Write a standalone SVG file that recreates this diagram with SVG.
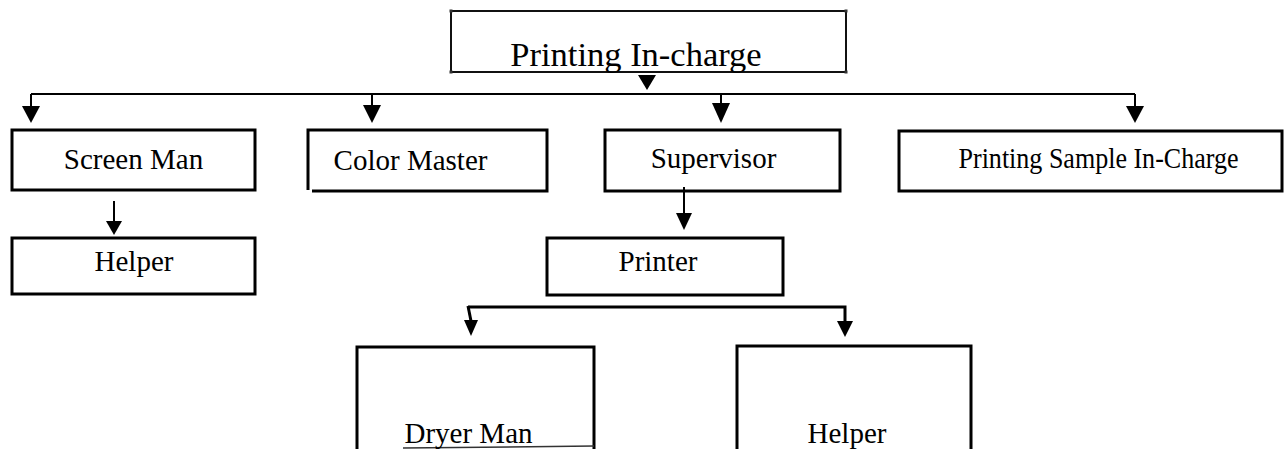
<svg xmlns="http://www.w3.org/2000/svg" xmlns:xlink="http://www.w3.org/1999/xlink" width="1286" height="449" viewBox="0 0 1286 449">
  <style>
    .box { fill: #fff; stroke: #000; stroke-width: 3; }
    .thin { fill: none; stroke: #111; stroke-width: 2; }
    .label { font-family: "Liberation Serif", "Times New Roman", serif; font-size: 29px; fill: #000; text-anchor: middle; }
    .wire { fill: none; stroke: #000; stroke-width: 2; }
    .wire3 { fill: none; stroke: #000; stroke-width: 3; }
    .head { fill: #000; stroke: none; }
    .dot { fill: #333; }
  </style>
  <rect width="1286" height="449" fill="#fff"/>

  <!-- top node -->
  <g id="printing-incharge">
    <rect class="thin" x="451" y="11" width="395" height="61"/>
    <rect class="dot" x="449.5" y="9.5" width="3" height="3"/>
    <rect class="dot" x="844.5" y="9.5" width="3" height="3"/>
    <rect class="dot" x="449.5" y="70.5" width="3" height="3"/>
    <rect class="dot" x="844.5" y="70.5" width="3" height="3"/>
    <text class="label" x="636" y="66" style="font-size:34.5px">Printing In-charge</text>
  </g>

  <!-- second level -->
  <g id="screen-man">
    <rect class="box" x="12" y="130" width="243" height="60"/>
    <text class="label" x="133.5" y="169">Screen Man</text>
  </g>
  <g id="color-master">
    <path class="box" d="M308,190 V130 H547 V191 H312" fill="none"/>
    <text class="label" x="410.5" y="170">Color Master</text>
  </g>
  <g id="supervisor">
    <rect class="box" x="605" y="130" width="235" height="61"/>
    <text class="label" x="713.5" y="168">Supervisor</text>
  </g>
  <g id="printing-sample-incharge">
    <rect class="box" x="899" y="131" width="383" height="60"/>
    <text class="label" x="1098.5" y="168" textLength="280" lengthAdjust="spacingAndGlyphs">Printing Sample In-Charge</text>
  </g>

  <!-- third level -->
  <g id="helper-screen">
    <rect class="box" x="12" y="238" width="243" height="56"/>
    <text class="label" x="134" y="271">Helper</text>
  </g>
  <g id="printer">
    <rect class="box" x="547" y="238" width="236" height="57"/>
    <text class="label" x="658" y="271">Printer</text>
  </g>

  <!-- fourth level (boxes run past the bottom edge) -->
  <g id="dryer-man">
    <path class="box" d="M357,460 V347 H594 V460" fill="none"/>
    <line x1="403" y1="448" x2="594" y2="446" stroke="#333" stroke-width="1.5"/>
    <text class="label" x="468.5" y="443">Dryer Man</text>
  </g>
  <g id="helper-printer">
    <path class="box" d="M737,460 V346 H971 V460" fill="none"/>
    <text class="label" x="847" y="443">Helper</text>
  </g>

  <!-- connectors -->
  <g id="connectors">
    <polygon class="head" points="638,75 656,75 647,90"/>
    <path class="wire" d="M31,94 H1135"/>

    <path class="wire" d="M31,94 V107"/>
    <polygon class="head" points="22,106 40,106 31,123"/>
    <path class="wire" d="M372,94 V106"/>
    <polygon class="head" points="363,105 381,105 372,123"/>
    <path class="wire" d="M721,94 V104"/>
    <polygon class="head" points="712,103 730,103 721,123"/>
    <path class="wire" d="M1135,94 V107"/>
    <polygon class="head" points="1126,106 1144,106 1135,123"/>

    <path class="wire" d="M114,201 V222"/>
    <polygon class="head" points="106,221 122,221 114,235"/>

    <path class="wire" d="M684,187 V214"/>
    <polygon class="head" points="676,213 692,213 684,230"/>

    <path class="wire3" d="M468,307 H845 V322"/>
    <path class="wire3" d="M468,306 L471,321"/>
    <polygon class="head" points="464,320 478,320 471,336"/>
    <polygon class="head" points="837,321 853,321 845,337"/>
  </g>
</svg>
